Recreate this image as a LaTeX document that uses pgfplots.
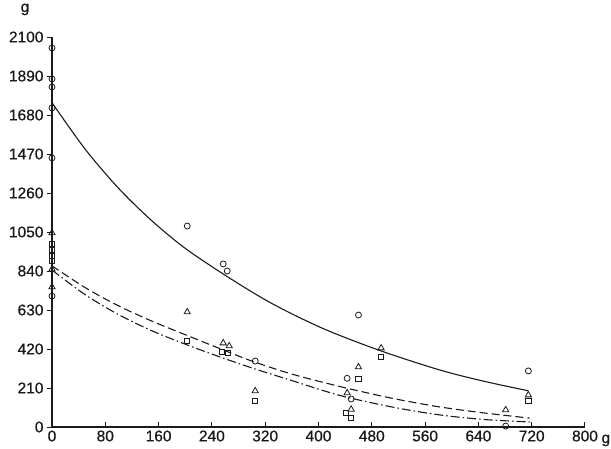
\documentclass[border=0pt]{standalone}
\usepackage{pgfplots}
\pgfplotsset{compat=1.18}
\usepackage{fontspec}
\setmainfont{Liberation Sans}
\newfontfamily\labelfont{Liberation Sans}[FakeBold=0.6]

\definecolor{ink}{HTML}{1A1A1A}

\begin{document}
\begin{tikzpicture}[x=1pt,y=1pt]
\useasboundingbox (-52,-21) rectangle (559,427);
\begin{axis}[
	at={(0,0)}, anchor=south west,
	scale only axis,
	width=533pt, height=390pt,
	xmin=0, xmax=800, ymin=0, ymax=2100,
	axis lines=left,
	axis line style={-, ink, line width=1.1pt},
	xtick={0,80,...,800},
	ytick={0,210,...,2100},
	xtick align=inside,
	ytick align=outside,
	major tick length=5pt,
	every tick/.style={ink, line width=1pt},
	tick label style={font=\labelfont\fontsize{15.5}{17}\selectfont, text=ink},
	/pgf/number format/assume math mode=true,
	/pgf/number format/set thousands separator={},
	xlabel={g}, ylabel={g},
	every axis x label/.style={at={(axis description cs:1,0)}, anchor=base west,
		xshift=13pt, yshift=-16pt, font=\labelfont\fontsize{15.5}{17}\selectfont, text=ink},
	every axis y label/.style={at={(axis description cs:0,1)}, anchor=base,
		xshift=-27pt, yshift=25pt, font=\labelfont\fontsize{15.5}{17}\selectfont, text=ink},
	clip=false,
]
% fitted curves
\addplot[ink, line width=1.1pt, smooth] coordinates {
	(0,1746) (50,1495) (100,1285) (150,1110) (200,962) (263,810)
	(330,665) (407,530) (492,412) (582,307) (650,245) (715,195)
};
\addplot[ink, line width=1.1pt, smooth, dash pattern=on 8pt off 4pt] coordinates {
	(0,868) (50,750) (100,652) (150,570) (200,497) (250,425) (300,355)
	(360,285) (432,218) (510,155) (582,108) (650,75) (717,48)
};
\addplot[ink, line width=1.1pt, smooth, dash pattern=on 9pt off 3pt on 1.5pt off 3pt] coordinates {
	(0,845) (50,712) (100,605) (150,518) (200,446) (250,380) (300,318)
	(360,250) (432,170) (510,108) (582,65) (650,40) (717,27)
};
% circles
\addplot[only marks, mark=o, mark size=3pt, ink, mark options={line width=0.8pt}] coordinates {
	(0,2041) (0,1874) (0,1831) (0,1718) (0,1449) (0,705)
	(203,1082) (257,878) (263,840) (305,355) (443,262) (449,151)
	(460,603) (681,5) (715,302)
};
% triangles
\addplot[only marks, mark=triangle, mark size=3.6pt, ink, mark options={line width=0.8pt}] coordinates {
	(0,1045) (0,850) (0,754) (203,619) (257,452) (266,436)
	(305,194) (443,183) (449,95) (460,323) (494,425) (681,92) (715,172)
};
% squares
\addplot[only marks, mark=square, mark size=2.6pt, ink, mark options={line width=0.8pt}] coordinates {
	(0,985) (0,953) (0,920) (0,895) (203,463) (255,404) (264,398)
	(305,140) (441,75) (449,48) (460,258) (494,377) (715,140)
};
\end{axis}
\end{tikzpicture}
\end{document}
